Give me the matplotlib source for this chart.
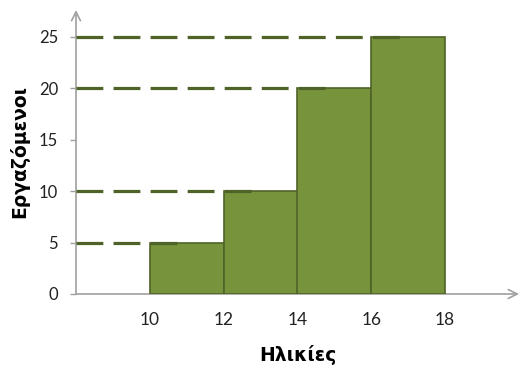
import numpy as np
import matplotlib.pyplot as plt

# age classes (left edges) and number of workers in each
edges = [10, 12, 14, 16, 18]
workers = [5, 10, 20, 25]
yticks = [0, 5, 10, 15, 20, 25]
xticks = [10, 12, 14, 16, 18]

fill = '#77933c'
dark = '#4f6228'
axcol = '#a0a0a0'

plt.rcParams['font.family'] = ['Lato', 'DejaVu Sans']

fig = plt.figure(figsize=(5.19, 3.65), dpi=100)
ax = fig.add_axes([76 / 519, 71 / 365, 443 / 519, 284 / 365])

lefts = np.array(edges[:-1])
widths = np.diff(edges)
ax.bar(lefts, workers, width=widths, align='edge', color=fill,
       edgecolor=dark, linewidth=1.2, zorder=2)

# dashed guides from the y axis to the middle of each bar
for l, w, v in zip(lefts, widths, workers):
    ax.plot([8, l + w / 2], [v, v], color=dark, lw=2.3,
            dashes=(8.4, 3.2), zorder=3, solid_capstyle='butt')

ax.set_xlim(8, 20)
ax.set_ylim(0, 27.6)
for s in ax.spines.values():
    s.set_visible(False)

# axes drawn as arrows
for end in [(20, 0), (8, 27.6)]:
    ax.annotate('', xy=end, xytext=(8, 0), xycoords='data',
                arrowprops=dict(arrowstyle='->', color=axcol, lw=1.2,
                                mutation_scale=16, shrinkA=0, shrinkB=0),
                annotation_clip=False, zorder=1)

ax.set_xticks(xticks)
ax.set_yticks(yticks)
ax.tick_params(axis='x', length=0, pad=13, labelsize=12.5, colors='#222222')
ax.tick_params(axis='y', length=4, width=1, color=axcol, pad=9,
               labelsize=12, labelcolor='#222222')

ax.set_xlabel('Ηλικίες', fontsize=13.5, fontweight='bold', labelpad=12,
              family='DejaVu Sans')
ax.set_ylabel('Εργαζόμενοι', fontsize=13.5, fontweight='bold', labelpad=7,
              family='DejaVu Sans')

fig.savefig('out.png', dpi=100)
